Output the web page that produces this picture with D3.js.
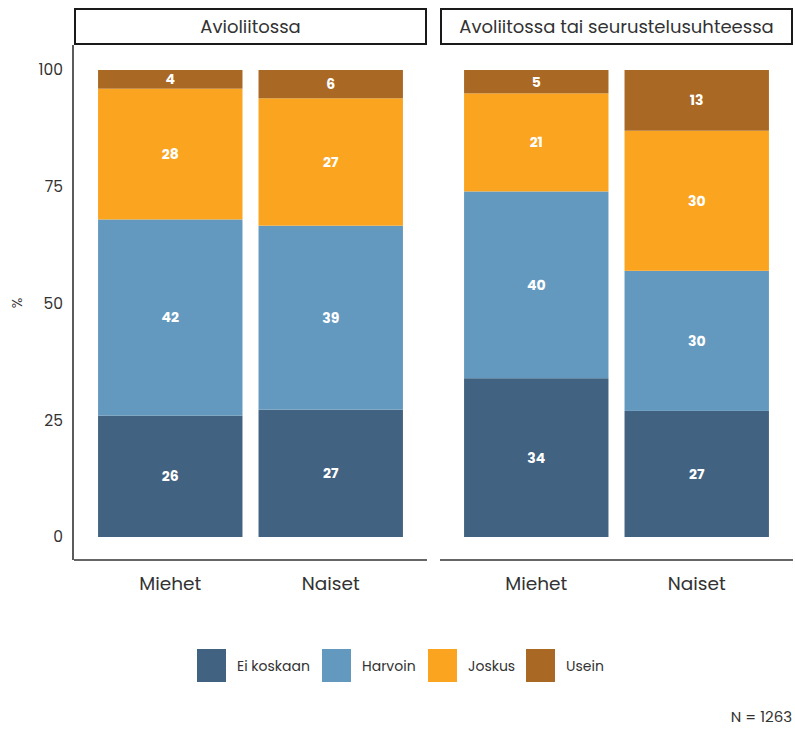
<!DOCTYPE html>
<html><head><meta charset="utf-8">
<script src="https://cdn.jsdelivr.net/npm/d3@7"></script>
<style>body{margin:0;background:#fff}svg{display:block}</style>
</head><body>
<svg id="c" width="795" height="729"></svg>
<script>
const panels = ["Avioliitossa", "Avoliitossa tai seurustelusuhteessa"];
const groups = ["Miehet", "Naiset"];
const categories = ["Ei koskaan", "Harvoin", "Joskus", "Usein"];
const colors = ["#416280", "#6499bf", "#fba41f", "#a96823"];
// values per panel per group, in category order
const avioliitossa = [[26, 42, 28, 4], [27, 39, 27, 6]];
const avoliitossa = [[34, 40, 21, 5], [27, 30, 30, 13]];
const yTicks = [0, 25, 50, 75, 100];
const nLabel = "N = 1263";

const font = "Poppins, 'Open Sans', Lato, sans-serif";
const svg = d3.select("#c");
const panelData = [avioliitossa, avoliitossa];
const panelX = [[74, 427], [440, 793]];
const y = d3.scaleLinear().domain([0, 1]).range([537, 70]);
const yPct = d3.scaleLinear().domain([0, 100]).range([537, 70]);
const color = d3.scaleOrdinal().domain(categories).range(colors);

panels.forEach((p, pi) => {
  const [x0, x1] = panelX[pi];
  svg.append("rect").attr("x", x0 + 1).attr("y", 9).attr("width", x1 - x0 - 2).attr("height", 35)
    .attr("fill", "#fff").attr("stroke", "#1a1a1a").attr("stroke-width", 2);
  svg.append("text").attr("x", (x0 + x1) / 2).attr("y", 33).attr("text-anchor", "middle")
    .attr("font-family", font).attr("font-size", 18).attr("fill", "#333").text(p);

  const x = d3.scaleBand().domain(groups).range([x0, x1]).paddingInner(0.1).paddingOuter(0.15);
  const rows = groups.map((g, gi) => {
    const o = {group: g};
    categories.forEach((c, ci) => o[c] = panelData[pi][gi][ci]);
    return o;
  });
  const stack = d3.stack().keys(categories).offset(d3.stackOffsetExpand)(rows);
  const g = svg.append("g");
  stack.forEach(layer => {
    layer.forEach(d => {
      g.append("rect").attr("x", x(d.data.group)).attr("width", x.bandwidth())
        .attr("y", y(d[1])).attr("height", y(d[0]) - y(d[1]))
        .attr("fill", color(layer.key));
      g.append("text").attr("x", x(d.data.group) + x.bandwidth() / 2)
        .attr("y", (y(d[0]) + y(d[1])) / 2).attr("dy", "0.35em")
        .attr("text-anchor", "middle").attr("font-family", font).attr("font-weight", "bold")
        .attr("font-size", 14).attr("fill", "#fff").text(d.data[layer.key]);
    });
  });
  groups.forEach(gr => {
    svg.append("text").attr("x", x(gr) + x.bandwidth() / 2).attr("y", 590)
      .attr("text-anchor", "middle").attr("font-family", font).attr("font-size", 18.5)
      .attr("fill", "#333").text(gr);
  });
  svg.append("line").attr("x1", x0).attr("x2", x1).attr("y1", 560).attr("y2", 560)
    .attr("stroke", "#333").attr("stroke-width", 1.6);
});

svg.append("line").attr("x1", 73).attr("x2", 73).attr("y1", 45).attr("y2", 560)
  .attr("stroke", "#333").attr("stroke-width", 1.6);
const yAxis = d3.axisLeft(yPct).tickValues(yTicks).tickSize(0).tickPadding(10);
const ya = svg.append("g").attr("transform", "translate(73,0)").call(yAxis);
ya.select(".domain").remove();
ya.selectAll("text").attr("font-family", font).attr("font-size", 15.5).attr("fill", "#333");
svg.append("text").attr("transform", "translate(22,303) rotate(-90)").attr("text-anchor", "middle")
  .attr("font-family", font).attr("font-size", 14).attr("fill", "#333").text("%");

const legX = [197, 322, 428, 526];
categories.forEach((c, i) => {
  svg.append("rect").attr("x", legX[i]).attr("y", 649).attr("width", 29).attr("height", 33)
    .attr("fill", color(c));
  svg.append("text").attr("x", legX[i] + 40).attr("y", 666).attr("dy", "0.35em")
    .attr("font-family", font).attr("font-size", 14).attr("fill", "#333").text(c);
});
svg.append("text").attr("x", 792).attr("y", 722).attr("text-anchor", "end")
  .attr("font-family", font).attr("font-size", 15).attr("fill", "#333").text(nLabel);
</script>
</body></html>
